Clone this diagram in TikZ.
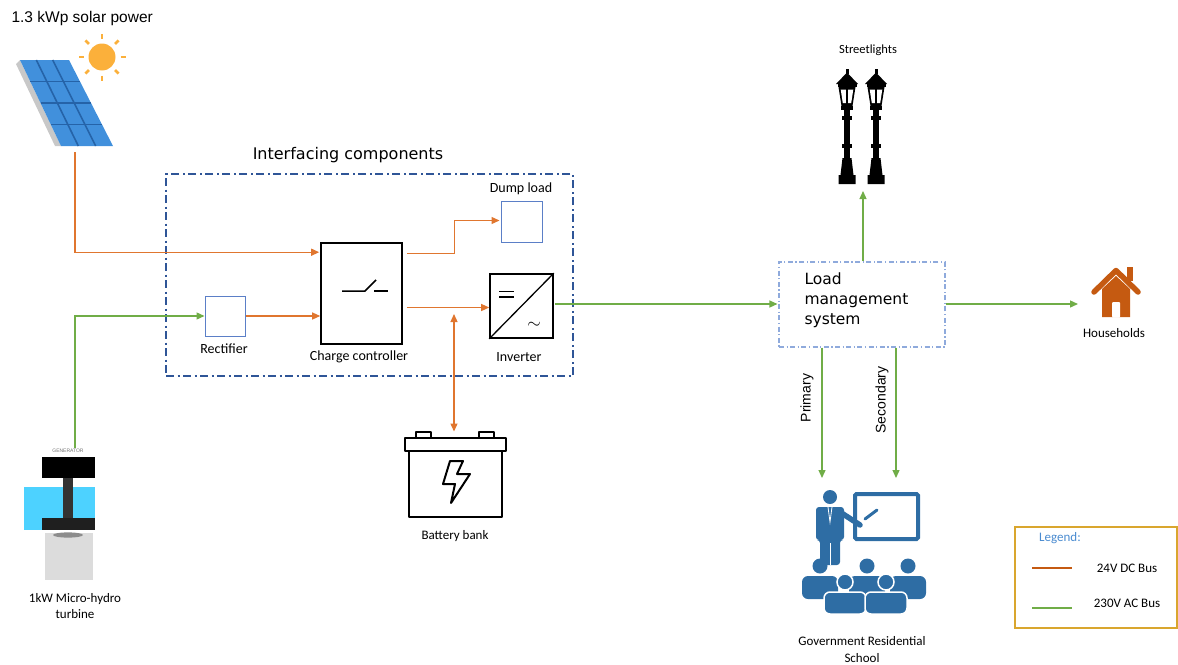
\documentclass[tikz,border=0pt]{standalone}
\usepackage{fontspec}
\setmainfont{Liberation Sans}
\newfontfamily\calfont{Carlito}
\newfontfamily\dvfont{DejaVu Sans}
\usetikzlibrary{arrows.meta,calc}

\definecolor{dcorange}{HTML}{E0762F}
\definecolor{acgreen}{HTML}{70AD47}
\definecolor{boxblue}{HTML}{5B7FC7}
\definecolor{ifaceblue}{HTML}{2F5597}
\definecolor{lmsblue}{HTML}{8FAADC}
\definecolor{houseorange}{HTML}{C55A11}
\definecolor{schoolblue}{HTML}{2E6DA4}
\definecolor{sunyellow}{HTML}{FBB03B}
\definecolor{panelblue}{HTML}{4190DC}
\definecolor{panelgrid}{HTML}{2563A8}
\definecolor{panelside}{HTML}{C8C8C8}
\definecolor{watercyan}{HTML}{4DD2FF}
\definecolor{casing}{HTML}{DCDCDC}
\definecolor{legendgold}{HTML}{D9A62E}
\definecolor{legendblue}{HTML}{4A8BD0}

\begin{document}
\begin{tikzpicture}[x=1pt,y=-1pt,
  tip/.style={-{Triangle[length=8pt,width=7pt]}},
  dc/.style={line width=1.3pt,color=dcorange},
  ac/.style={line width=1.3pt,color=acgreen},
  smallbox/.style={draw=boxblue,line width=1pt,minimum size=40pt,inner sep=0pt},
  blockbox/.style={draw=black,line width=1.6pt,inner sep=0pt},
  lbl/.style={font=\calfont\fontsize{14}{16}\selectfont},
  slbl/.style={font=\calfont\fontsize{13}{16}\selectfont,align=center},
  sans/.style={font=\fontsize{14}{16}\selectfont},
  ghost/.style={inner sep=0pt,outer sep=0pt}]

\useasboundingbox (0,0) rectangle (1178,664);

% ---------- solar array ----------
\node[font=\fontsize{15.5}{18}\selectfont,anchor=west] (solarlbl) at (8,18) {1.3 kWp solar power};
\fill[panelside] (16,64) -- (20,60) -- (61,146) -- (55,146) -- cycle;
\fill[panelblue] (20,60) -- (69,60) -- (113,146) -- (61,146) -- cycle;
\foreach \u in {0.3333,0.6667}
  \draw[panelgrid,line width=1.6pt] (20+49*\u,60) -- (61+52*\u,146);
\foreach \t in {0.25,0.5,0.75}
  \draw[panelgrid,line width=1.6pt] (20+41*\t,60+86*\t) -- (69+44*\t,60+86*\t);
\coordinate (sunc) at (102,57);
\fill[sunyellow] (sunc) circle [radius=13.5];
\foreach \a in {0,45,...,315}
  \draw[sunyellow,line width=2.8pt] ($(sunc)+(\a:18.5)$) -- ($(sunc)+(\a:23.5)$);
\coordinate (solarout) at (75,152);

% ---------- micro-hydro turbine ----------
\fill[watercyan] (24,487) rectangle (95,530);
\fill[casing] (45,533) rectangle (93,580);
\fill[black] (42,457) rectangle (95,478);
\fill[black!80] (63,478) rectangle (73,518);
\fill[black!88] (42,518) rectangle (95,530);
\fill[black!45] (68,535) ellipse [x radius=15, y radius=2.6];
\node[font=\fontsize{5}{6}\selectfont,text=black!55] (genlbl) at (68,451) {GENERATOR};
\node[slbl] (hydrolbl) at (75,606) {1kW Micro-hydro\\turbine};
\coordinate (hydroout) at (75,448);

% ---------- interfacing components ----------
\node[draw=ifaceblue,line width=1.6pt,
      dash pattern=on 8pt off 3.5pt on 2pt off 3.5pt,
      minimum width=407pt,minimum height=202pt,inner sep=0pt] (iface) at (369.5,275) {};
\node[font=\dvfont\fontsize{16}{18}\selectfont] (ifacelbl) at (348,155) {Interfacing components};

\node[smallbox] (rect) at (225,316) {};
\node[lbl] (rectlbl) at (224,349) {Rectifier};

\node[blockbox,minimum width=81pt,minimum height=101pt] (cc) at (361.5,293.5) {};
\node[lbl] (cclbl) at (359,357) {Charge controller};
\draw[line width=1.5pt] ($(cc.center)+(-19.5,-2.5)$) -- ++(23,0) -- ++(11,-11);
\draw[line width=1.5pt] ($(cc.center)+(12.5,-2.5)$) -- ++(14,0);

\node[smallbox,minimum size=41pt] (dump) at (521.5,221.5) {};
\node[lbl] (dumplbl) at (521,189) {Dump load};

\node[blockbox,minimum width=63pt,minimum height=64pt] (inv) at (521.5,306) {};
\draw[line width=1.3pt] (inv.south west) -- (inv.north east);
\draw[line width=1.5pt] ($(inv.north west)+(10,18.5)$) -- ++(15,0);
\draw[line width=1.5pt] ($(inv.north west)+(10,24)$) -- ++(15,0);
\node[font=\fontsize{16}{16}\selectfont] (acsym) at ($(inv.north west)+(45,52)$) {$\sim$};
\node[lbl] (invlbl) at (519,357) {Inverter};

% ---------- battery bank ----------
\begin{scope}[line width=2.3pt,line join=round]
  \draw (416,432) rectangle (431,438);
  \draw (479,432) rectangle (494,438);
  \draw (405,438) rectangle (506,451);
  \draw (409,451) rectangle (502,517);
  \draw[line width=2pt] (450,461) -- (463,461) -- (457,474) -- (470,474)
        -- (451,503) -- (455,484) -- (443,484) -- cycle;
\end{scope}
\node[ghost,minimum width=101pt,minimum height=86pt] (batt) at (455.5,474.5) {};
\node[slbl] (battlbl) at (455,536) {Battery bank};
\coordinate (jn) at (454,314);

% ---------- DC bus ----------
\draw[dc,tip] (solarout) |- ($(cc.north west)+(-1,10)$);
\draw[dc,tip] (rect.east) -- (rect.east -| cc.west);
\draw[dc,tip] ($(cc.north east)+(4,11)$) -| ($(dump.west)+(-46,-1)$) -- ($(dump.west)+(-1,-1)$);
\draw[dc,tip] ($(cc.east)+(4,14)$) -- (inv.west |- {$(cc.east)+(0,14)$});
\draw[dc,{Triangle[length=8pt,width=7pt]}-{Triangle[length=8pt,width=7pt]}]
     (jn) -- (jn |- batt.north);

% ---------- AC bus ----------
\draw[ac,tip] (hydroout) |- (rect.west);

\node[draw=lmsblue,line width=1.1pt,dash pattern=on 5pt off 2.5pt on 1.2pt off 2.5pt,
      minimum width=166pt,minimum height=85pt,inner sep=0pt] (lms) at (862,304.5) {};
\node[font=\dvfont\fontsize{15.5}{20}\selectfont,align=left,anchor=west] (lmstext) at (801,300)
      {Load\\management\\system};

\draw[ac,tip] ($(inv.east)+(1,-2)$) -- ($(lms.west)+(-1,-0.5)$);

% streetlights
\foreach \cx in {847,876} {
  \fill (\cx-1.5,69) rectangle (\cx+1.5,74);
  \fill (\cx-11,84) -- (\cx,72.5) -- (\cx+11,84) -- cycle;
  \fill (\cx-9.5,84) rectangle (\cx+9.5,87);
  \fill (\cx-8.5,87) -- (\cx+8.5,87) -- (\cx+5.5,106) -- (\cx-5.5,106) -- cycle;
  \fill[white] (\cx-6.3,89.5) -- (\cx-1.2,89.5) -- (\cx-1.2,103) -- (\cx-4.2,103) -- cycle;
  \fill[white] (\cx+1.2,89.5) -- (\cx+6.3,89.5) -- (\cx+4.2,103) -- (\cx+1.2,103) -- cycle;
  \fill (\cx-6,106) rectangle (\cx+6,110);
  \fill (\cx-3,110) rectangle (\cx+3,162);
  \fill (\cx-4.8,116) rectangle (\cx+4.8,120);
  \fill (\cx-4.8,144) rectangle (\cx+4.8,148);
  \fill (\cx-4.5,158) -- (\cx+4.5,158) -- (\cx+6.5,175) -- (\cx+8.5,175)
        -- (\cx+8.5,184) -- (\cx-8.5,184) -- (\cx-8.5,175) -- (\cx-6.5,175) -- cycle;
}
\node[font=\calfont\fontsize{12.5}{15}\selectfont] (lamplbl) at (868,50) {Streetlights};
\coordinate (lampin) at (863,191);
\draw[ac,tip] (lms.north -| lampin) -- (lampin);

% households
\draw[houseorange,line width=5.5pt,line cap=round,line join=round]
     (1094,292) -- (1116,270.5) -- (1138,292);
\fill[houseorange] (1127,267) rectangle (1133,281);
\fill[houseorange] (1102,289) -- (1116,276) -- (1130,289) -- (1130,317) -- (1102,317) -- cycle;
\fill[white,rounded corners=1pt] (1112,302) rectangle (1120,317.5);
\node[font=\calfont\fontsize{13}{15}\selectfont] (houselbl) at (1114,333) {Households};
\coordinate (housein) at (1078,304);
\draw[ac,tip] (lms.east |- housein) -- (housein);

% school
\begin{scope}[schoolblue]
  % teacher and board
  \fill (830,497) circle [radius=7];
  \fill[rounded corners=3pt] (816,507) -- (844,507) -- (844,540) -- (840,540) -- (840,565)
        -- (820,565) -- (820,540) -- (816,540) -- cycle;
  \draw[line width=5.5pt,line cap=round] (840,512) -- (860,525);
  \draw[line width=3pt,line cap=round] (865,519) -- (877,510);
  \draw[white,line width=0.8pt] (828,507) -- (830,522) -- (832,507);
  \draw[white,line width=0.8pt] (830,543) -- (830,565);
  \draw[line width=4pt,rounded corners=1.5pt] (855,494) rectangle (918,539);
  % back row of pupils
  \foreach \px in {820,867,908} {
    \fill (\px,566) circle [radius=7.5];
    \fill[rounded corners=6pt] (\px-18,599) -- (\px-18,576) -- (\px+18,576) -- (\px+18,599) -- cycle;
  }
  % front row of pupils
  \foreach \px in {845,886} {
    \filldraw[draw=white,line width=1.5pt,rounded corners=6pt]
       (\px-21,614) -- (\px-21,592) -- (\px+21,592) -- (\px+21,614) -- cycle;
    \filldraw[draw=white,line width=1.5pt] (\px,582) circle [radius=8];
  }
\end{scope}
\node[ghost,minimum width=125pt,minimum height=122pt] (school) at (862,551) {};
\node[font=\calfont\fontsize{13}{17}\selectfont,align=center] (schoollbl) at (862,650)
      {Government Residential\\School};

\coordinate (pri) at (822,478);
\coordinate (sec) at (896,478);
\draw[ac,tip] (lms.south -| pri) -- (pri);
\draw[ac,tip] (lms.south -| sec) -- (sec);
\node[sans,rotate=90] (prilbl) at (807,398) {Primary};
\node[sans,rotate=90] (seclbl) at (882,400) {Secondary};

% ---------- legend ----------
\node[draw=legendgold,line width=1.2pt,minimum width=162pt,minimum height=101pt,inner sep=0pt]
     (legend) at (1096,577.5) {};
\node[font=\calfont\fontsize{13}{15}\selectfont,text=legendblue] (legtitle) at (1060,538) {Legend:};
\coordinate (dcA) at (1032,568);
\coordinate (dcB) at (1072,568);
\coordinate (acA) at (1032,608);
\coordinate (acB) at (1072,608);
\draw[dc,line width=1.6pt,color=houseorange] (dcA) -- (dcB);
\draw[ac,line width=1.6pt] (acA) -- (acB);
\node[font=\calfont\fontsize{13}{15}\selectfont] (dclbl) at (1127,568) {24V DC Bus};
\node[font=\calfont\fontsize{13}{15}\selectfont] (aclbl) at (1127,603) {230V AC Bus};
\end{tikzpicture}
\end{document}
